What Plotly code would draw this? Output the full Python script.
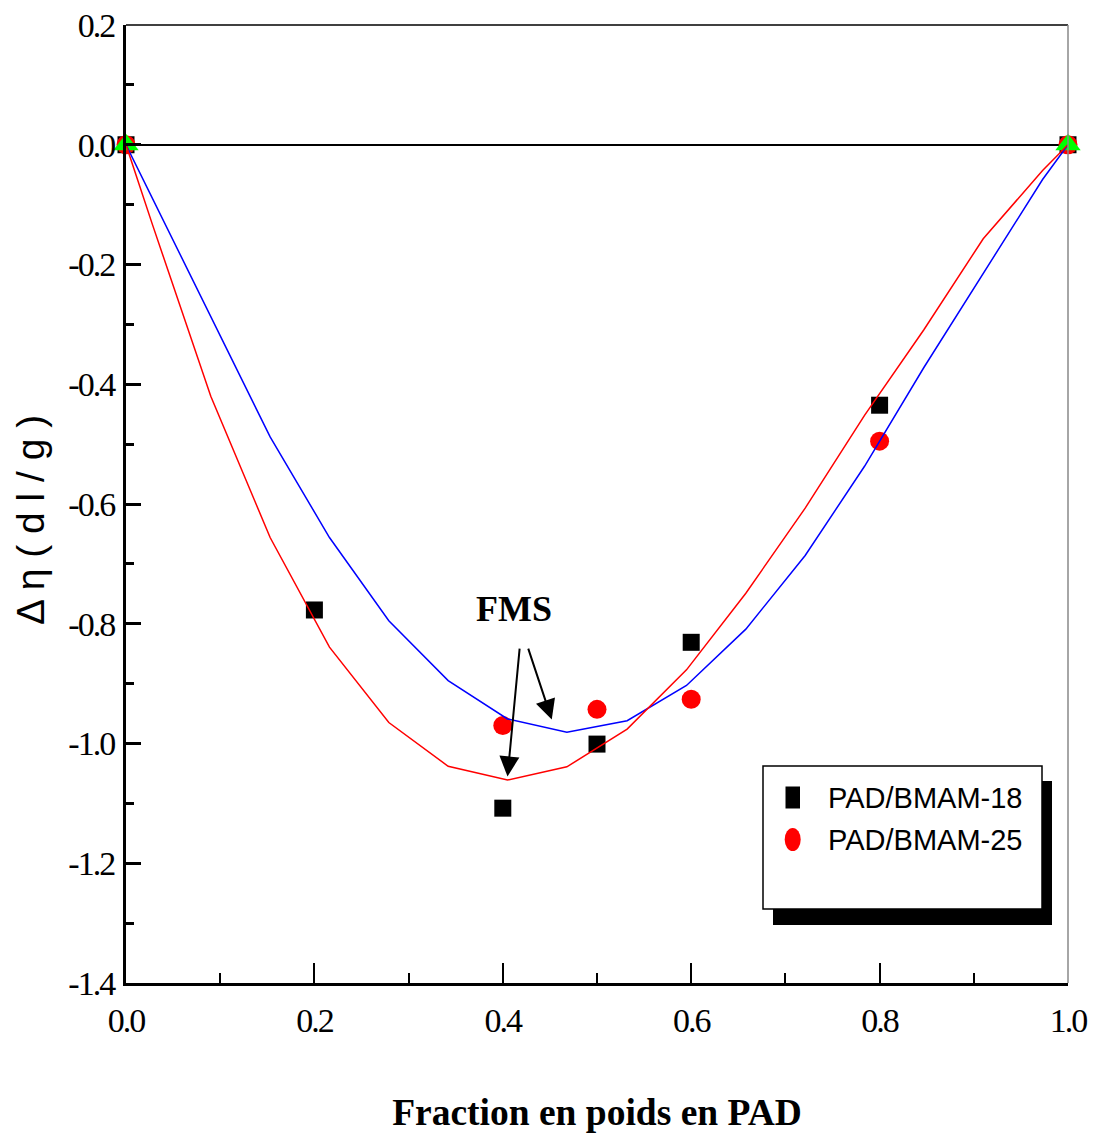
import plotly.graph_objects as go

# ---- data ----
frac_exp = [0.0, 0.2, 0.4, 0.5, 0.6, 0.8, 1.0]
bmam18 = [0.0, -0.777, -1.108, -1.001, -0.831, -0.435, 0.0]

frac_exp25 = [0.0, 0.4, 0.5, 0.6, 0.8, 1.0]
bmam25 = [0.0, -0.970, -0.943, -0.926, -0.495, 0.0]

frac_pure = [0.0, 1.0]
pure = [0.0, 0.0]

frac_fms = [0.0, 0.028, 0.090, 0.153, 0.216, 0.279, 0.342, 0.405, 0.468,
            0.532, 0.595, 0.658, 0.721, 0.784, 0.847, 0.910, 0.973, 1.0]
fms18 = [0.0, -0.089, -0.287, -0.488, -0.656, -0.795, -0.895, -0.959, -0.981,
         -0.962, -0.903, -0.809, -0.686, -0.537, -0.372, -0.216, -0.058, 0.0]
fms25 = [0.0, -0.133, -0.420, -0.656, -0.839, -0.965, -1.038, -1.061, -1.039,
         -0.976, -0.877, -0.749, -0.607, -0.452, -0.309, -0.157, -0.043, 0.0]

x_ticks = [0.0, 0.2, 0.4, 0.6, 0.8, 1.0]
x_ticktext = ["0.0", "0.2", "0.4", "0.6", "0.8", "1.0"]
y_ticks = [0.2, 0.0, -0.2, -0.4, -0.6, -0.8, -1.0, -1.2, -1.4]
y_ticktext = ["0.2", "0.0", "-0.2", "-0.4", "-0.6", "-0.8", "-1.0", "-1.2", "-1.4"]

legend_names = ["PAD/BMAM-18", "PAD/BMAM-25"]
x_title = "Fraction en poids en PAD"
y_title = "Δ η ( d l / g )"

# ---- figure geometry ----
W, H = 1104, 1133
ML, MR, MT, MB = 126, 36, 25, 150
PW, PH = W - ML - MR, H - MT - MB

SERIF = "Liberation Serif"
SANS = "Liberation Sans"


def px(xp):
    return (xp - ML) / PW


def py(yp):
    return (H - MB - yp) / PH


def tight(labels):
    return ['<span style="letter-spacing:-2px">%s</span>' % s for s in labels]


fig = go.Figure()

fig.add_trace(go.Scatter(x=frac_exp, y=bmam18, mode="markers", name=legend_names[0],
                         marker=dict(symbol="square", size=17, color="black"),
                         showlegend=False))
fig.add_trace(go.Scatter(x=frac_exp25, y=bmam25, mode="markers", name=legend_names[1],
                         marker=dict(symbol="circle", size=19, color="#ff0000"),
                         showlegend=False))
fig.add_trace(go.Scatter(x=frac_pure, y=pure, mode="markers", name="pure",
                         marker=dict(symbol="triangle-up", size=22, color="#00ff00"),
                         showlegend=False))
fig.add_trace(go.Scatter(x=frac_fms, y=fms18, mode="lines", name="FMS 18",
                         line=dict(color="#0000ff", width=1.5), showlegend=False))
fig.add_trace(go.Scatter(x=frac_fms, y=fms25, mode="lines", name="FMS 25",
                         line=dict(color="#ff0000", width=1.5), showlegend=False))
for t in fig.data:
    t.cliponaxis = False

fig.update_layout(
    width=W, height=H,
    margin=dict(l=ML, r=MR, t=MT, b=MB, pad=0, autoexpand=False),
    plot_bgcolor="white", paper_bgcolor="white",
    font=dict(family=SERIF, color="black"),
    xaxis=dict(range=[0, 1], tickvals=x_ticks, ticktext=tight(x_ticktext),
               automargin=False,
               showgrid=False, zeroline=False,
               showline=True, linecolor="black", linewidth=3,
               ticks="inside", ticklen=20, tickwidth=2, tickcolor="black",
               minor=dict(dtick=0.1, ticks="inside", ticklen=10, tickwidth=2,
                          tickcolor="black", showgrid=False),
               tickfont=dict(family=SERIF, size=34, color="black"),
               ticklabelstandoff=5,
               title=dict(text="<b>%s</b>" % x_title,
                          font=dict(family=SERIF, size=37.5, color="black"),
                          standoff=70)),
    yaxis=dict(range=[-1.4, 0.2], tickvals=y_ticks, ticktext=tight(y_ticktext),
               automargin=False,
               showgrid=False,
               zeroline=True, zerolinecolor="black", zerolinewidth=1.5,
               showline=True, linecolor="black", linewidth=3,
               ticks="inside", ticklen=15, tickwidth=3, tickcolor="black",
               minor=dict(dtick=0.1, ticks="inside", ticklen=8, tickwidth=3,
                          tickcolor="black", showgrid=False),
               tickfont=dict(family=SERIF, size=34, color="black"),
               ticklabelstandoff=2),
)

shapes = []
# top and right frame lines
shapes.append(dict(type="line", xref="paper", yref="paper", x0=0, x1=1, y0=1, y1=1,
                   line=dict(color="black", width=1.5)))
shapes.append(dict(type="line", xref="paper", yref="paper", x0=1, x1=1, y0=0, y1=1,
                   line=dict(color="#888888", width=1.5)))
# legend shadow and box
shapes.append(dict(type="rect", xref="paper", yref="paper",
                   x0=px(773), x1=px(1052), y0=py(925), y1=py(781),
                   fillcolor="black", line=dict(width=0)))
shapes.append(dict(type="rect", xref="paper", yref="paper",
                   x0=px(763), x1=px(1042), y0=py(909), y1=py(766),
                   fillcolor="white", line=dict(color="black", width=1.5)))
# legend symbols
shapes.append(dict(type="rect", xref="paper", yref="paper",
                   x0=px(785.5), x1=px(800), y0=py(808.5), y1=py(786.5),
                   fillcolor="black", line=dict(width=0)))
shapes.append(dict(type="circle", xref="paper", yref="paper",
                   x0=px(784.7), x1=px(800.7), y0=py(851), y1=py(828),
                   fillcolor="#ff0000", line=dict(width=0)))
fig.update_layout(shapes=shapes)

legfont = dict(family=SANS, size=29, color="black")
annotations = [
    dict(xref="paper", yref="paper", x=px(30), y=py(520), text=y_title,
         textangle=-90, showarrow=False, xanchor="center", yanchor="middle",
         font=dict(family=SANS, size=39, color="black")),
    dict(xref="paper", yref="paper", x=px(826), y=py(798), text=legend_names[0],
         showarrow=False, xanchor="left", yanchor="middle", font=legfont),
    dict(xref="paper", yref="paper", x=px(826), y=py(840), text=legend_names[1],
         showarrow=False, xanchor="left", yanchor="middle", font=legfont),
    dict(xref="x", yref="y", x=0.412, y=-0.775, text="<b>FMS</b>", showarrow=False,
         font=dict(family=SERIF, size=36, color="black")),
    dict(xref="x", yref="y", axref="x", ayref="y", x=0.405, y=-1.055, ax=0.418, ay=-0.839,
         text="", showarrow=True, arrowhead=2, arrowsize=2, arrowwidth=2, arrowcolor="black"),
    dict(xref="x", yref="y", axref="x", ayref="y", x=0.452, y=-0.960, ax=0.4265, ay=-0.839,
         text="", showarrow=True, arrowhead=2, arrowsize=2, arrowwidth=2, arrowcolor="black"),
]
fig.update_layout(annotations=annotations)

fig.write_html("out.html")
